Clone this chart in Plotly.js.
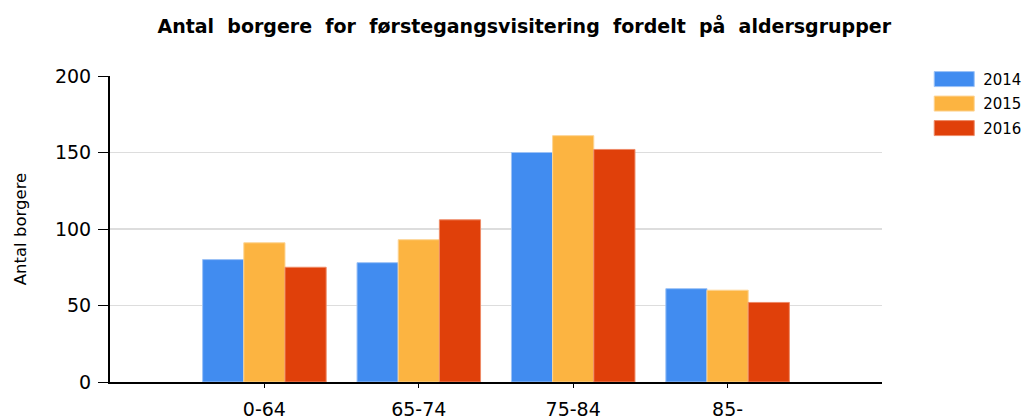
<!DOCTYPE html>
<html>
<head>
<meta charset="utf-8">
<script src="https://cdn.plot.ly/plotly-3.0.1.min.js"></script>
<style>
  body { margin: 0; background: #fff; }
  #chart { width: 1032px; height: 419px; }
</style>
</head>
<body>
<div id="chart"></div>
<script>
var ageGroups = ['0-64', '65-74', '75-84', '85-'];
var years = ['2014', '2015', '2016'];
var values2014 = [80, 78, 150, 61];
var values2015 = [91, 93, 161, 60];
var values2016 = [75, 106, 152, 52];
var barColors = ['#418CF0', '#FCB441', '#E0400A'];
var edgeColors = ['#9CC2F6', '#FDD595', '#EE8A66'];

var series = [values2014, values2015, values2016];
var data = [];
for (let i = 0; i < years.length; i++) {
    data.push({
        type: 'bar',
        name: years[i],
        legendgroup: years[i],
        x: ageGroups,
        y: series[i],
        marker: { color: barColors[i], line: { color: edgeColors[i], width: 1 } },
        hoverinfo: 'x+y+name'
    });
}

var tickFont = { family: 'DejaVu Sans', size: 19, color: '#000' };

var layout = {
    width: 1032,
    height: 419,
    margin: { l: 110, r: 150, t: 76, b: 37, autoexpand: false },
    paper_bgcolor: '#fff',
    plot_bgcolor: '#fff',
    barmode: 'group',
    bargap: 0.2,
    bargroupgap: 0,
    title: {
        text: 'Antal  borgere  for  førstegangsvisitering  fordelt  på  aldersgrupper',
        font: { family: 'DejaVu Sans', size: 19, color: '#000', weight: 'bold' },
        x: 0.508, xref: 'container', xanchor: 'center',
        y: 0.937, yref: 'container', yanchor: 'middle'
    },
    xaxis: {
        type: 'category',
        range: [-1, 4],
        showline: true, linecolor: '#000', linewidth: 2,
        ticks: 'outside', ticklen: 4, tickcolor: '#000', tickwidth: 1,
        showgrid: false,
        tickfont: tickFont,
        ticklabelstandoff: 5,
        fixedrange: true
    },
    yaxis: {
        range: [0, 200],
        tickvals: [0, 50, 100, 150, 200],
        showline: true, linecolor: '#000', linewidth: 2,
        ticks: 'outside', ticklen: 10, tickcolor: '#000', tickwidth: 1,
        gridcolor: '#DDDDDD', gridwidth: 1.5,
        zeroline: false,
        tickfont: tickFont,
        ticklabelstandoff: 3,
        title: { text: 'Antal borgere', font: { family: 'DejaVu Sans', size: 16.5, color: '#000' }, standoff: 24 },
        fixedrange: true
    },
    legend: {
        x: 1.056, xanchor: 'left', y: 1.043, yanchor: 'top',
        font: { family: 'DejaVu Sans', size: 15, color: '#000' },
        itemwidth: 48,
        traceorder: 'grouped',
        tracegroupgap: 2,
        bgcolor: 'rgba(0,0,0,0)'
    },
    showlegend: true
};

Plotly.newPlot('chart', data, layout, { displayModeBar: false, staticPlot: true }).then(function (gd) {
    // wider legend swatches like the original
    var pts = gd.querySelectorAll('.legendpoints path');
    pts.forEach(function (p) {
        p.setAttribute('d', 'M20,7.5H-20V-7.5H20Z');
    });
});
</script>
</body>
</html>
